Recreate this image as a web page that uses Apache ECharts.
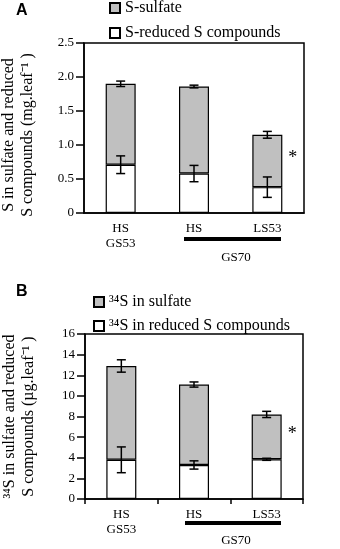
<!DOCTYPE html>
<html>
<head>
<meta charset="utf-8">
<script src="https://cdn.jsdelivr.net/npm/echarts@6/dist/echarts.min.js"></script>
<style>
html, body { margin: 0; padding: 0; background: #fff; }
#chart { width: 340px; height: 549px; }
</style>
</head>
<body>
<div id="chart"></div>
<script>
// 数据
const categories = ['HS\nGS53', 'HS', 'LS53'];
// panel A (mg.leaf-1)
const aTotal = [1.90, 1.86, 1.15];
const aTotalErr = [0.04, 0.02, 0.05];
const aReduced = [0.71, 0.58, 0.38];
const aReducedErr = [0.13, 0.12, 0.15];
// panel B (µg.leaf-1)
const bTotal = [12.9, 11.1, 8.2];
const bTotalErr = [0.6, 0.25, 0.3];
const bReduced = [3.8, 3.3, 3.85];
const bReducedErr = [1.25, 0.4, 0.1];
const yTicksA = { min: 0, max: 2.5, interval: 0.5 };
const yTicksB = { min: 0, max: 16, interval: 2 };

const serif = "'Liberation Serif', 'Times New Roman', serif";
const GRAY = '#c0c0c0';

const chart = echarts.init(document.getElementById('chart'), null, { renderer: 'canvas' });

function errSeries(idx, vals, errs) {
    return {
        type: 'custom',
        xAxisIndex: idx,
        yAxisIndex: idx,
        z: 10,
        silent: true,
        data: vals.map((v, i) => [i, v, errs[i]]),
        encode: { x: 0, y: 1 },
        renderItem: function (params, api) {
            const c = api.value(0);
            const lo = api.coord([c, api.value(1) - api.value(2)]);
            const hi = api.coord([c, api.value(1) + api.value(2)]);
            const w = 4.5;
            const st = { stroke: '#000', lineWidth: 1.5 };
            return {
                type: 'group',
                children: [
                    { type: 'line', shape: { x1: lo[0], y1: lo[1], x2: hi[0], y2: hi[1] }, style: st },
                    { type: 'line', shape: { x1: lo[0] - w, y1: lo[1], x2: lo[0] + w, y2: lo[1] }, style: st },
                    { type: 'line', shape: { x1: hi[0] - w, y1: hi[1], x2: hi[0] + w, y2: hi[1] }, style: st }
                ]
            };
        }
    };
}

function barSeries(idx, name, vals, color, star) {
    return {
        name: name,
        type: 'bar',
        stack: 'p' + idx,
        xAxisIndex: idx,
        yAxisIndex: idx,
        barWidth: 30,
        data: vals.map((v, i) => ({
            value: v,
            label: {
                show: star && i === 2,
                position: 'right',
                distance: 6,
                offset: [0, -3],
                formatter: '*',
                fontFamily: serif,
                fontSize: 18,
                color: '#000'
            }
        })),
        itemStyle: { color: color, borderColor: '#000', borderWidth: 1.2 },
        emphasis: { disabled: true }
    };
}

function xAxisOpt(idx, ticks) {
    return {
        gridIndex: idx,
        type: 'category',
        data: categories,
        axisLine: { lineStyle: { color: '#000', width: 1.5 } },
        axisTick: { show: ticks, length: 5, lineStyle: { color: '#000', width: 1.5 } },
        axisLabel: { color: '#000', fontFamily: serif, fontSize: 13, lineHeight: 15, margin: 8, interval: 0 },
        splitLine: { show: false }
    };
}

function yAxisOpt(idx, t, name, fmt, pad) {
    return {
        gridIndex: idx,
        type: 'value',
        min: t.min,
        max: t.max,
        interval: t.interval,
        name: name,
        nameLocation: 'middle',
        nameRotate: 90,
        nameGap: 47,
        nameTextStyle: { color: '#000', fontFamily: serif, fontSize: 16, lineHeight: 19, padding: pad },
        axisLine: { show: true, lineStyle: { color: '#000', width: 1.5 } },
        axisTick: { show: true, length: 8, lineStyle: { color: '#000', width: 1.5 } },
        axisLabel: { color: '#000', fontFamily: serif, fontSize: 13, margin: 10, formatter: fmt },
        splitLine: { show: false }
    };
}

const aSulfate = aTotal.map((v, i) => +(v - aReduced[i]).toFixed(3));
const bSulfate = bTotal.map((v, i) => +(v - bReduced[i]).toFixed(3));

const option = {
    animation: false,
    grid: [
        { left: 84, top: 43, width: 220, height: 170, show: true, borderColor: '#000', borderWidth: 1.5, backgroundColor: 'transparent', containLabel: false, outerBoundsMode: 'none' },
        { left: 85, top: 334, width: 218, height: 165, show: true, borderColor: '#000', borderWidth: 1.5, backgroundColor: 'transparent', containLabel: false, outerBoundsMode: 'none' }
    ],
    legend: [
        {
            orient: 'vertical', left: 109, top: 0, padding: 0, itemWidth: 10, itemHeight: 10, itemGap: 9,
            icon: 'rect',
            data: ['S-sulfate', 'S-reduced S compounds'],
            textStyle: { color: '#000', fontFamily: serif, fontSize: 16 }
        },
        {
            orient: 'vertical', left: 93, top: 294, padding: 0, itemWidth: 10, itemHeight: 10, itemGap: 8,
            icon: 'rect',
            data: ['³⁴S in sulfate', '³⁴S in reduced S compounds'],
            textStyle: { color: '#000', fontFamily: serif, fontSize: 16 }
        }
    ],
    xAxis: [xAxisOpt(0, false), xAxisOpt(1, true)],
    yAxis: [
        yAxisOpt(0, yTicksA, 'S in sulfate and reduced\nS compounds (mg.leaf⁻¹ )', v => v === 0 ? '0' : v.toFixed(1), [0, 14, 0, 0]),
        yAxisOpt(1, yTicksB, '³⁴S in sulfate and reduced\nS compounds (µg.leaf⁻¹ )', v => String(v), 0)
    ],
    series: [
        barSeries(0, 'S-reduced S compounds', aReduced, '#fff', false),
        barSeries(0, 'S-sulfate', aSulfate, GRAY, true),
        errSeries(0, aReduced, aReducedErr),
        errSeries(0, aTotal, aTotalErr),
        barSeries(1, '³⁴S in reduced S compounds', bReduced, '#fff', false),
        barSeries(1, '³⁴S in sulfate', bSulfate, GRAY, true),
        errSeries(1, bReduced, bReducedErr),
        errSeries(1, bTotal, bTotalErr)
    ],
    graphic: [
        { type: 'text', left: 16, top: 3, style: { text: 'A', font: "bold 16px 'Liberation Sans', Arial, sans-serif", fill: '#000' } },
        { type: 'text', left: 16, top: 284, style: { text: 'B', font: "bold 16px 'Liberation Sans', Arial, sans-serif", fill: '#000' } },
        { type: 'rect', shape: { x: 184, y: 237, width: 97, height: 4 }, style: { fill: '#000' } },
        { type: 'text', x: 236, y: 258, style: { text: 'GS70', font: '13px ' + serif, fill: '#000', align: 'center', verticalAlign: 'middle' } },
        { type: 'rect', shape: { x: 185, y: 521, width: 96, height: 4 }, style: { fill: '#000' } },
        { type: 'text', x: 236, y: 541, style: { text: 'GS70', font: '13px ' + serif, fill: '#000', align: 'center', verticalAlign: 'middle' } }
    ]
};

chart.setOption(option);
</script>
</body>
</html>
